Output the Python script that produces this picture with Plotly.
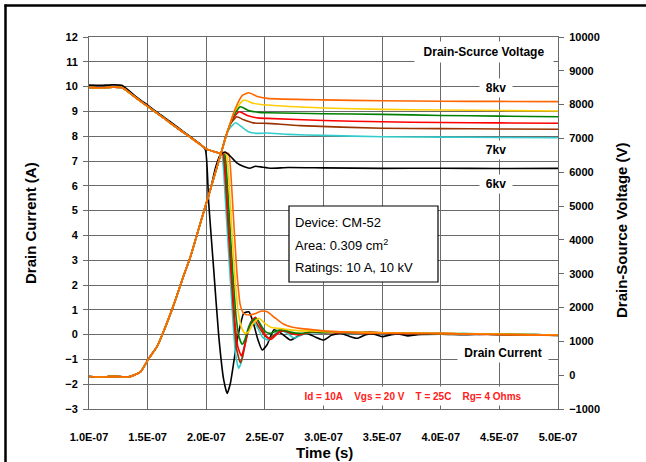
import plotly.graph_objects as go

# ---------------- data (time in ns) ----------------
COMMON_I_T = [100, 110, 120, 128, 140, 150, 160, 170, 180, 186.5, 195, 200, 205, 210]
COMMON_I = [9.97, 9.95, 9.98, 9.96, 9.55, 9.2, 8.86, 8.51, 8.17, 7.95, 7.66, 7.49, 7.4, 7.33]

BLACK_I_T = [100, 110, 120, 128, 140, 150, 160, 170, 180, 186.5, 195, 199.3, 202.1, 206.4, 210.7,
             214.9, 217.8, 220.6, 226.4, 232, 236.3, 240, 244, 247.7, 252, 257.6, 264, 271.8, 279,
             286.1, 293, 300.3, 307, 314.5, 321, 328.8, 336, 343, 350, 358, 365, 372, 380, 400,
             420, 440, 460, 480, 500]
BLACK_I = [10.06, 10.05, 10.07, 10.05, 9.6, 9.25, 8.9, 8.56, 8.2, 7.98, 7.68, 7.45, 5.3, 2.6, -0.08,
           -1.83, -2.37, -1.96, -0.22, 0.86, 0.92, 0.5, -0.2, -0.62, -0.4, 0.19, 0.05, -0.22, -0.05,
           0.05, -0.1, -0.22, -0.02, 0.06, -0.05, -0.15, 0.0, 0.02, -0.08, 0.0, 0.02, -0.05, 0.0, 0.02,
           0.0, 0.02, -0.02, 0.0, -0.03]

CYAN_I_T = [213, 214.5, 217, 220, 223, 225, 227.7, 230, 233, 236, 239, 243, 248, 253, 258, 263, 269,
            275, 282, 290, 300, 310, 320, 340, 360, 380, 400, 420, 450, 480, 500]
CYAN_I = [7.3, 6.8, 4.9, 2.6, 0.4, -0.8, -1.36, -1.1, -0.3, 0.3, 0.55, 0.35, -0.1, -0.22, 0.0, 0.19,
          0.05, -0.14, 0.0, 0.08, 0.05, 0.1, 0.05, 0.08, 0.05, 0.06, 0.03, 0.05, 0.0, 0.0, -0.03]

BROWN_I_T = [214, 215.5, 218, 221, 224, 226, 229, 231, 234, 237, 241, 245, 250, 254, 260, 266, 272,
             280, 290, 300, 320, 340, 360, 380, 400, 430, 460, 500]
BROWN_I = [7.3, 6.8, 4.9, 2.6, 0.4, -0.6, -1.13, -0.9, -0.2, 0.35, 0.6, 0.3, -0.05, -0.15, 0.05, 0.15,
           0.05, 0.0, 0.1, 0.08, 0.1, 0.06, 0.05, 0.04, 0.05, 0.02, 0.0, -0.02]

RED_I_T = [214.5, 216, 218.5, 221.5, 224.5, 227, 230, 232, 235, 238, 242, 246, 251, 255, 261, 266, 272,
           280, 290, 300, 320, 340, 360, 380, 400, 430, 460, 500]
RED_I = [7.3, 6.8, 4.9, 2.6, 0.5, -0.5, -0.86, -0.6, 0.0, 0.5, 0.7, 0.35, -0.05, -0.2, 0.05, 0.2, 0.05,
         0.0, 0.12, 0.1, 0.08, 0.1, 0.05, 0.05, 0.04, 0.03, 0.0, -0.02]

GREEN_I_T = [215.5, 217, 219.5, 222.5, 225.5, 228, 230.6, 233, 236, 239, 243, 247, 251, 255, 260, 265,
             272, 280, 290, 300, 320, 340, 360, 380, 400, 430, 460, 500]
GREEN_I = [7.3, 6.8, 4.9, 2.6, 0.7, -0.1, -0.39, -0.2, 0.25, 0.55, 0.65, 0.35, 0.1, 0.05, 0.15, 0.2,
           0.1, 0.05, 0.12, 0.1, 0.09, 0.08, 0.06, 0.05, 0.04, 0.03, 0.01, -0.02]

YELLOW_I_T = [217, 218.5, 221, 224, 227, 230, 233, 236, 240, 245, 250, 255, 262, 270, 280, 290, 300,
              320, 340, 360, 380, 400, 430, 460, 500]
YELLOW_I = [7.3, 6.8, 4.9, 2.6, 1.0, 0.3, 0.05, 0.1, 0.45, 0.66, 0.45, 0.3, 0.25, 0.2, 0.15, 0.15, 0.12,
            0.1, 0.08, 0.07, 0.06, 0.05, 0.03, 0.01, -0.02]

ORANGE_I_T = [219, 220.5, 223, 226, 229, 232, 236.3, 242, 247, 252, 258, 265, 272, 280, 292, 300, 312,
              337, 360, 380, 400, 430, 460, 500]
ORANGE_I = [7.3, 6.8, 4.9, 2.6, 1.2, 0.85, 0.79, 0.85, 0.95, 0.92, 0.7, 0.45, 0.32, 0.25, 0.19, 0.15,
            0.12, 0.05, 0.06, 0.05, 0.04, 0.02, 0.0, -0.03]

COMMON_V_T = [100, 110, 120, 130, 135.3, 143.9, 150.9, 158.1, 163.7, 169.5, 173.7, 179.4, 186.5, 195, 203.6]
COMMON_V = [-40, -55, -35, -50, -40, 100, 490, 850, 1300, 1820, 2220, 2810, 3500, 4500, 5500]

BLACK_V_T = [208, 212, 216, 221, 226, 232, 237, 242, 248, 255, 270, 300, 350, 400, 450, 500]
BLACK_V = [6150, 6520, 6600, 6460, 6280, 6170, 6120, 6180, 6150, 6120, 6140, 6130, 6115, 6120, 6110, 6115]
CYAN_V_T = [212.1, 216, 220, 225, 230, 236, 243, 252, 270, 300, 350, 400, 450, 500]
CYAN_V = [6500, 7000, 7300, 7465, 7350, 7200, 7150, 7160, 7120, 7090, 7050, 7040, 7030, 7020]
BROWN_V_T = [212.1, 217, 221, 226, 232, 240, 252, 280, 350, 400, 450, 500]
BROWN_V = [6500, 7100, 7450, 7640, 7550, 7460, 7446, 7380, 7300, 7290, 7280, 7270]
RED_V_T = [212.1, 218, 222, 228, 235, 245, 252, 300, 350, 400, 450, 500]
RED_V = [6500, 7190, 7550, 7790, 7680, 7600, 7594, 7530, 7494, 7470, 7460, 7450]
GREEN_V_T = [212.1, 218, 223, 229, 236, 245, 252, 300, 350, 400, 450, 500]
GREEN_V = [6500, 7190, 7650, 7938, 7830, 7770, 7760, 7730, 7713, 7680, 7660, 7640]
YELLOW_V_T = [212.1, 218, 224, 232, 240, 252, 300, 350, 400, 450, 500]
YELLOW_V = [6500, 7190, 7800, 8136, 8040, 7988, 7900, 7861, 7840, 7825, 7810]
ORANGE_V_T = [212.1, 218, 225, 231, 236.3, 243, 252, 300, 350, 400, 450, 500]
ORANGE_V = [6500, 7190, 7900, 8280, 8352, 8250, 8186, 8140, 8115, 8100, 8095, 8090]

X_TICK_VALS_NS = [100, 150, 200, 250, 300, 350, 400, 450, 500]
X_TICK_TEXT = ["1.0E-07", "1.5E-07", "2.0E-07", "2.5E-07", "3.0E-07", "3.5E-07", "4.0E-07", "4.5E-07", "5.0E-07"]

COLORS = {"black": "#000000", "cyan": "#33CCCC", "brown": "#993300", "red": "#FF0000",
          "green": "#008000", "yellow": "#FFCC00", "orange": "#FF6600"}

NS = 1e-9
FONT = "Liberation Sans, Arial, sans-serif"

series = [
    ("black", BLACK_I_T, BLACK_I, COMMON_V_T + BLACK_V_T, COMMON_V + BLACK_V),
    ("cyan", COMMON_I_T + CYAN_I_T, COMMON_I + CYAN_I, COMMON_V_T + CYAN_V_T, COMMON_V + CYAN_V),
    ("brown", COMMON_I_T + BROWN_I_T, COMMON_I + BROWN_I, COMMON_V_T + BROWN_V_T, COMMON_V + BROWN_V),
    ("red", COMMON_I_T + RED_I_T, COMMON_I + RED_I, COMMON_V_T + RED_V_T, COMMON_V + RED_V),
    ("green", COMMON_I_T + GREEN_I_T, COMMON_I + GREEN_I, COMMON_V_T + GREEN_V_T, COMMON_V + GREEN_V),
    ("yellow", COMMON_I_T + YELLOW_I_T, COMMON_I + YELLOW_I, COMMON_V_T + YELLOW_V_T, COMMON_V + YELLOW_V),
    ("orange", COMMON_I_T + ORANGE_I_T, COMMON_I + ORANGE_I, COMMON_V_T + ORANGE_V_T, COMMON_V + ORANGE_V),
]

fig = go.Figure()
for name, ti, iv, tv, vv in series:
    fig.add_trace(go.Scatter(x=[t * NS for t in ti], y=iv, mode="lines", yaxis="y",
                             line=dict(color=COLORS[name], width=1.6, shape="spline", smoothing=0.5),
                             showlegend=False, hoverinfo="skip"))
for name, ti, iv, tv, vv in series:
    fig.add_trace(go.Scatter(x=[t * NS for t in tv], y=vv, mode="lines", yaxis="y2",
                             line=dict(color=COLORS[name], width=1.6, shape="spline", smoothing=0.5),
                             showlegend=False, hoverinfo="skip"))

GRID = "#6a6a6a"
L, R, T, B = 89, 88, 37, 53
W, H = 646, 462
PW, PH = W - L - R, H - T - B


def px(x):
    return (x - L) / PW


def py(y):
    return (H - B - y) / PH


tickfont = dict(family=FONT, size=11, color="black", weight="bold")
fig.update_layout(
    width=W, height=H, margin=dict(l=L, r=R, t=T, b=B),
    paper_bgcolor="white", plot_bgcolor="white",
    xaxis=dict(range=[100 * NS, 500 * NS], tickvals=[v * NS for v in X_TICK_VALS_NS], ticktext=X_TICK_TEXT,
               showgrid=True, gridcolor=GRID, gridwidth=1, showline=True, linecolor=GRID, mirror=True,
               ticks="", tickfont=tickfont, ticklabelstandoff=18, zeroline=False),
    yaxis=dict(range=[-3, 12], dtick=1, tick0=0, showgrid=True, gridcolor=GRID, gridwidth=1,
               showline=True, linecolor=GRID, mirror=True, ticks="outside", ticklen=5, tickcolor=GRID,
               tickfont=tickfont, zeroline=False, ticklabelstandoff=3),
    yaxis2=dict(range=[-1000, 10000], dtick=1000, tick0=0, overlaying="y", side="right", showgrid=False,
                showline=False, ticks="outside", ticklen=5, tickcolor=GRID, tickfont=tickfont,
                tickformat="d", zeroline=False, ticklabelstandoff=3),
)


def note(text, x, y, font, **kw):
    d = dict(text=text, x=px(x), y=py(y), xref="paper", yref="paper", showarrow=False,
             xanchor="center", yanchor="middle", font=font)
    d.update(kw)
    return d


ann = []
title_font = dict(family=FONT, size=15, color="black", weight="bold")
ann.append(note("Drain Current (A)", 30, 223, title_font, textangle=-90))
ann.append(note("Drain-Source Voltage (V)", 621, 230, title_font, textangle=-90))
ann.append(note("Time (s)", 324, 453, title_font))

lbl_font = dict(family=FONT, size=12, color="black", weight="bold")
ann.append(note("Drain-Scurce Voltage", 484, 52, lbl_font, bgcolor="white", width=136, height=18))
for txt, yy in [("8kv", 88), ("7kv", 150), ("6kv", 184)]:
    ann.append(note(txt, 496, yy, lbl_font, bgcolor="white", width=30, height=16))
ann.append(note("Drain Current", 503, 352, lbl_font, bgcolor="white", width=88, height=17))
ann.append(note("Id = 10A&nbsp;&nbsp;&nbsp;&nbsp;Vgs = 20 V&nbsp;&nbsp;&nbsp;&nbsp;T = 25C&nbsp;&nbsp;&nbsp;&nbsp;Rg= 4 Ohms",
                413, 396, dict(family=FONT, size=10, color="#FF2020", weight="bold"),
                bgcolor="white", width=236, height=16))

box_font = dict(family=FONT, size=13, color="black")
for txt, yy in [("Device: CM-52", 222), ("Area: 0.309 cm<sup>2</sup>", 245), ("Ratings: 10 A, 10 kV", 267)]:
    ann.append(note(txt, 293, yy, box_font, xanchor="left"))
fig.update_layout(annotations=ann)

shapes = [
    dict(type="rect", xref="paper", yref="paper", x0=px(289), x1=px(438), y0=py(282), y1=py(206),
         line=dict(color="black", width=1.2), fillcolor="white", layer="above"),
    dict(type="line", xref="paper", yref="paper", x0=px(5.5), x1=px(5.5), y0=py(4.5), y1=py(462),
         line=dict(color="black", width=2.5)),
    dict(type="line", xref="paper", yref="paper", x0=px(4.5), x1=px(646), y0=py(5.5), y1=py(5.5),
         line=dict(color="black", width=2.5)),
]
fig.update_layout(shapes=shapes)

fig.write_html("out.html")
